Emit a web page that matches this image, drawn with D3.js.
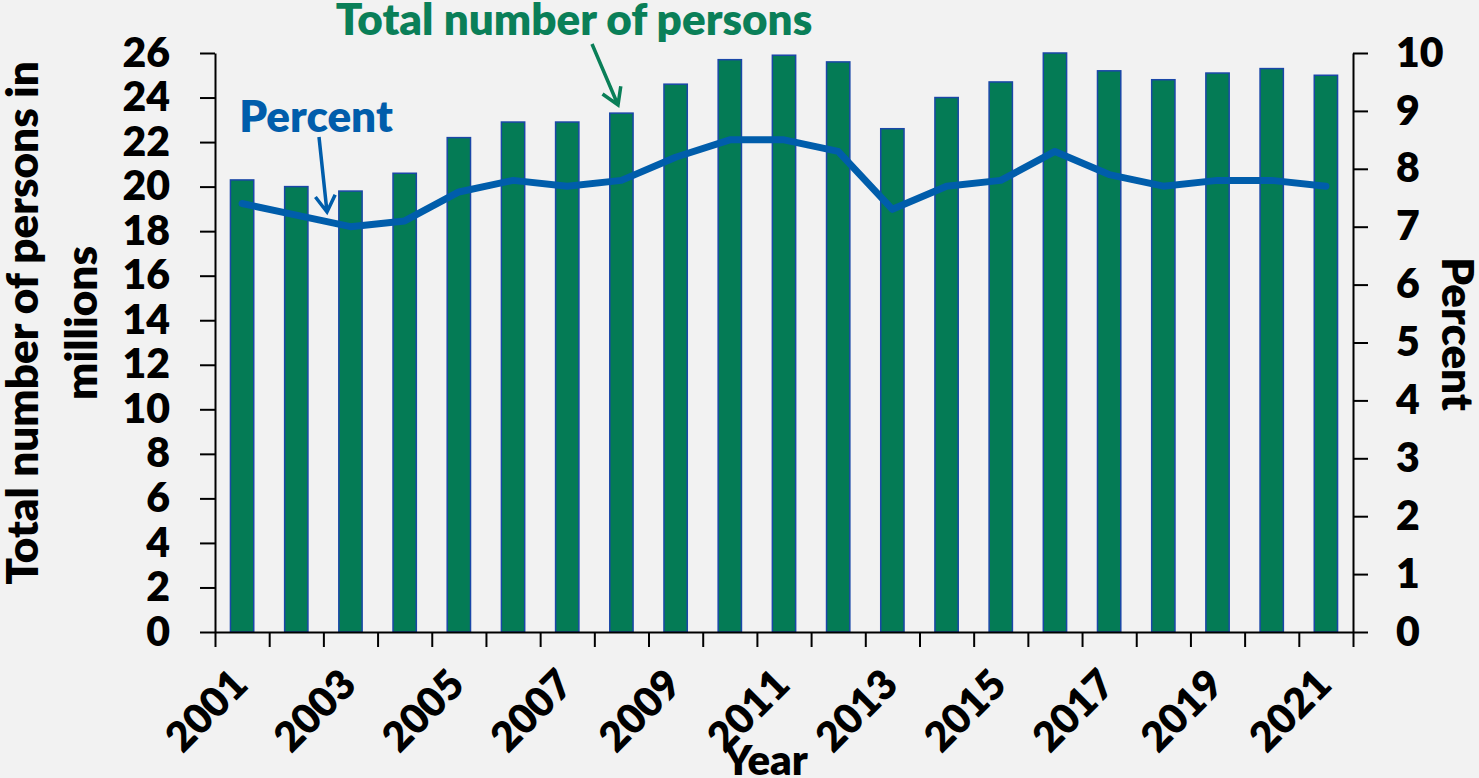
<!DOCTYPE html>
<html>
<head>
<meta charset="utf-8">
<script src="https://cdn.jsdelivr.net/npm/d3@7"></script>
<style>
  body { margin: 0; background: #f2f2f2; }
  svg text { font-family: Lato, "Open Sans", sans-serif; font-weight: 800; }
</style>
</head>
<body>
<div id="chart"></div>
<script>

// data
const years = d3.range(2001, 2022);
const persons = [20.3, 20.0, 19.8, 20.6, 22.2, 22.9, 22.9, 23.3, 24.6, 25.7, 25.9, 25.6,
                 22.6, 24.0, 24.7, 26.0, 25.2, 24.8, 25.1, 25.3, 25.0];
const percent = [7.4, 7.2, 7.0, 7.1, 7.6, 7.8, 7.7, 7.8, 8.2, 8.5, 8.5, 8.3,
                 7.3, 7.7, 7.8, 8.3, 7.9, 7.7, 7.8, 7.8, 7.7];
const leftTicks = d3.range(0, 27, 2);
const rightTicks = d3.range(0, 11, 1);
const yearLabels = years.filter(y => y % 2 === 1);

const width = 1479;
const height = 778;
const margin = {left: 215, right: 126, top: 53, bottom: 146};

const green = "#047b55";
const blue = "#005dab";

const svg = d3.select("#chart")
  .append("svg")
  .attr("width", width)
  .attr("height", height)
  .style("background", "#f2f2f2");

// scales
const xScale = d3.scaleBand()
  .domain(years)
  .range([margin.left, width - margin.right])
  .padding(0);

const xEdge = d3.scaleLinear()
  .domain([0, years.length])
  .range([margin.left, width - margin.right]);

const yLeft = d3.scaleLinear()
  .domain([0, 26])
  .range([height - margin.bottom, margin.top]);

const yRight = d3.scaleLinear()
  .domain([0, 10])
  .range([height - margin.bottom, margin.top]);

const barW = xScale.bandwidth() * 0.43;

// bars
svg.selectAll(".bar")
  .data(years)
  .enter()
  .append("rect")
    .attr("class", "bar")
    .attr("x", d => xScale(d) + (xScale.bandwidth() - barW) / 2)
    .attr("y", (d, i) => yLeft(persons[i]))
    .attr("width", barW)
    .attr("height", (d, i) => yLeft(0) - yLeft(persons[i]))
    .attr("fill", green)
    .attr("stroke", "#1a47a8")
    .attr("stroke-width", 1.5);

// percent line
const line = d3.line()
  .x((d, i) => xScale(years[i]) + xScale.bandwidth() / 2)
  .y(d => yRight(d));

svg.append("path")
  .datum(percent)
  .attr("d", line)
  .attr("fill", "none")
  .attr("stroke", blue)
  .attr("stroke-width", 7)
  .attr("stroke-linejoin", "round")
  .attr("stroke-linecap", "round");

// x axis, ticks between categories
const xAxis = svg.append("g")
  .attr("transform", `translate(0,${height - margin.bottom})`)
  .call(d3.axisBottom(xEdge)
    .tickValues(d3.range(0, years.length + 1))
    .tickFormat("")
    .tickSize(15)
    .tickSizeOuter(0));
xAxis.selectAll("line, path").attr("stroke", "#000").attr("stroke-width", 2);

// rotated year labels
svg.selectAll(".year")
  .data(yearLabels)
  .enter()
  .append("text")
    .attr("class", "year")
    .attr("text-anchor", "end")
    .attr("font-size", 41)
    .attr("transform", d => `translate(${xScale(d) + xScale.bandwidth() / 2 + 8},${height - margin.bottom + 55}) rotate(-45)`)
    .text(d => d);

// left axis
const leftAxis = svg.append("g")
  .attr("transform", `translate(${margin.left},0)`)
  .call(d3.axisLeft(yLeft).tickValues(leftTicks).tickSize(15).tickSizeOuter(0).tickPadding(30));
leftAxis.selectAll("line, path").attr("stroke", "#000").attr("stroke-width", 2);
leftAxis.selectAll("text").attr("font-size", 41).attr("fill", "#000");

// right axis
const rightAxis = svg.append("g")
  .attr("transform", `translate(${width - margin.right},0)`)
  .call(d3.axisRight(yRight).tickValues(rightTicks).tickSize(15).tickSizeOuter(0).tickPadding(28));
rightAxis.selectAll("line, path").attr("stroke", "#000").attr("stroke-width", 2);
rightAxis.selectAll("text").attr("font-size", 41).attr("fill", "#000");

// axis titles
const leftTitle = svg.append("text")
  .attr("transform", "translate(38,323) rotate(-90)")
  .attr("text-anchor", "middle")
  .attr("font-size", 44);
leftTitle.append("tspan").attr("x", 0).attr("y", 0).text("Total number of persons in");
leftTitle.append("tspan").attr("x", 0).attr("y", 59).text("millions");

svg.append("text")
  .attr("transform", "translate(1442,334) rotate(90)")
  .attr("text-anchor", "middle")
  .attr("font-size", 44)
  .text("Percent");

svg.append("text")
  .attr("x", 766)
  .attr("y", 775)
  .attr("text-anchor", "middle")
  .attr("font-size", 42)
  .text("Year");

// annotations with arrows
svg.append("text")
  .attr("x", 574)
  .attr("y", 35)
  .attr("text-anchor", "middle")
  .attr("font-size", 44)
  .attr("fill", "#0a7f58")
  .text("Total number of persons");

svg.append("text")
  .attr("x", 316)
  .attr("y", 132)
  .attr("text-anchor", "middle")
  .attr("font-size", 44)
  .attr("fill", blue)
  .text("Percent");

const arrow = (x1, y1, x2, y2, color) => {
  const a = Math.atan2(y2 - y1, x2 - x1);
  const h = 19, s = 0.55;
  svg.append("path")
    .attr("d", `M${x1},${y1}L${x2},${y2}` +
      `M${x2 - h * Math.cos(a - s)},${y2 - h * Math.sin(a - s)}L${x2},${y2}` +
      `L${x2 - h * Math.cos(a + s)},${y2 - h * Math.sin(a + s)}`)
    .attr("fill", "none")
    .attr("stroke", color)
    .attr("stroke-width", 3.5);
};
arrow(592, 44, 618, 105, "#0a7f58");
arrow(319, 137, 327, 212, blue);

</script>
</body>
</html>
